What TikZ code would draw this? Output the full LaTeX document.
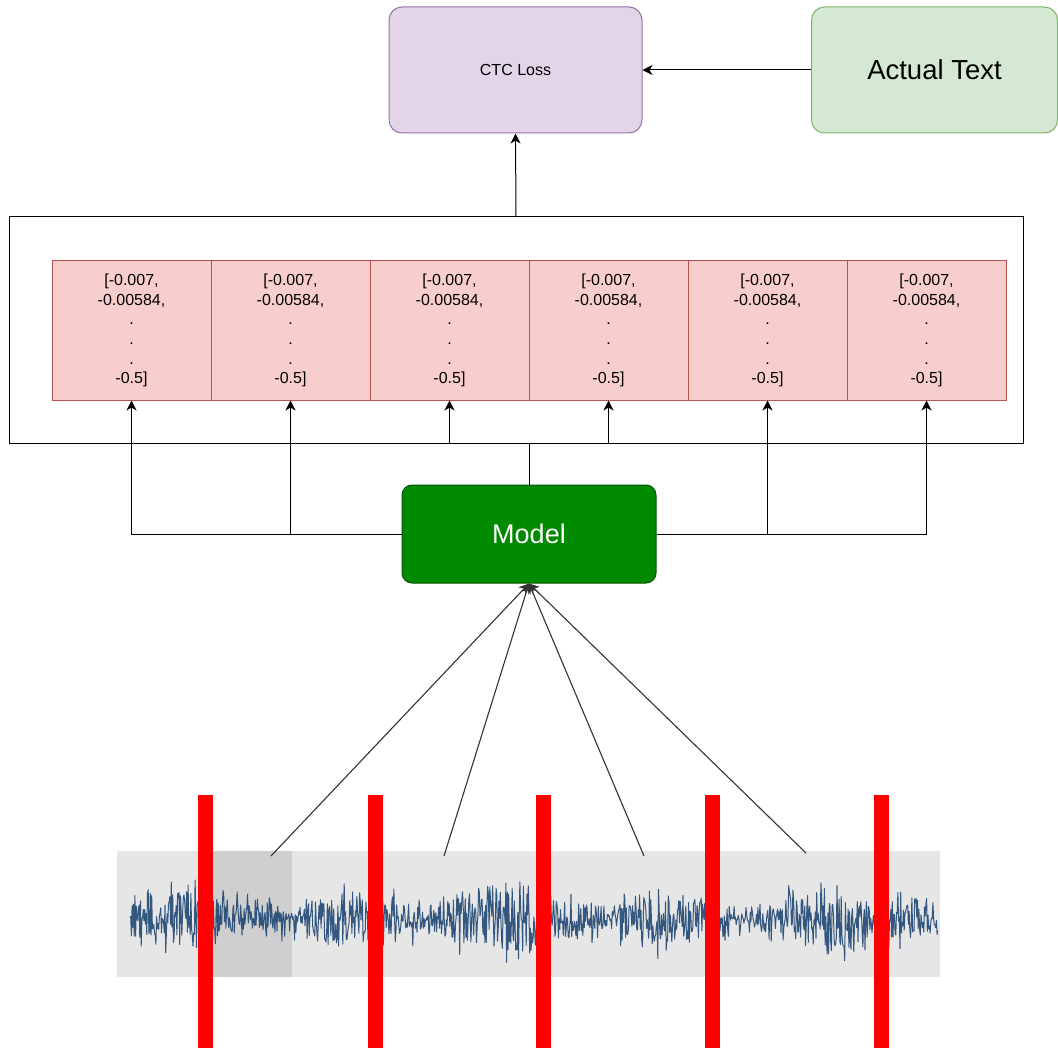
\documentclass[tikz,border=0pt]{standalone}
\usepackage{fontspec}
\setmainfont{Liberation Sans}
\usetikzlibrary{arrows.meta}
\definecolor{ctcfill}{HTML}{E1D5E7}
\definecolor{ctcdraw}{HTML}{9673A6}
\definecolor{actfill}{HTML}{D5E8D4}
\definecolor{actdraw}{HTML}{82B366}
\definecolor{cellfill}{HTML}{F8CECC}
\definecolor{celldraw}{HTML}{B85450}
\definecolor{modfill}{HTML}{008A00}
\definecolor{moddraw}{HTML}{005700}
\definecolor{wavebgc}{HTML}{E6E6E6}
\definecolor{wavesel}{HTML}{CFCFCF}
\definecolor{wavec}{HTML}{163F6E}
\definecolor{redbar}{HTML}{FF0000}
\tikzset{
  arr/.style={draw=black, line width=1pt, -{Stealth[length=10pt,width=10pt,inset=3pt]}},
  cellbox/.style={draw=celldraw, fill=cellfill, line width=1pt, minimum width=159pt, minimum height=139pt, inner sep=0pt, align=center, font=\fontsize{16}{19.6}\selectfont},
  bigbox/.style={rounded corners=13pt, line width=1pt, minimum width=253pt, minimum height=126pt, inner sep=0pt},
  barstyle/.style={fill=redbar, draw=none},
  feed/.style={draw=black!80, line width=1.1pt, -{Stealth[length=10pt,width=10pt,inset=3pt]}}
}
\begin{document}
\begin{tikzpicture}[x=1pt,y=-1pt]
\useasboundingbox (0,0) rectangle (1058,1051);
\fill[white] (0,0) rectangle (1058,1051);

% top boxes
\node[bigbox, draw=ctcdraw, fill=ctcfill, font=\fontsize{16}{19}\selectfont] (ctc) at (515.5,70) {CTC Loss};
\node[bigbox, draw=actdraw, fill=actfill, minimum width=246pt, font=\fontsize{27.5}{32}\selectfont] (act) at (934.5,70) {Actual Text};

% outer box
\node[draw=black, line width=1pt, minimum width=1014pt, minimum height=226pt, inner sep=0pt] (outer) at (516,330) {};

% cells
\foreach \i/\cx in {1/131.5,2/290.5,3/449.5,4/608.5,5/767.5,6/926.5}{
  \node[cellbox] (c\i) at (\cx,330.5) {[-0.007,\\-0.00584,\\.\\.\\.\\-0.5]};
}

% model
\node[draw=moddraw, fill=modfill, rounded corners=10pt, line width=1pt, minimum width=254pt, minimum height=98pt, inner sep=0pt, text=white, font=\fontsize{27}{32}\selectfont] (model) at (529,534) {Model};

% connectors top
\draw[arr] (act.west) -- (ctc.east);
\draw[arr] (outer.north) -- (ctc.south);

% model to cells
\draw[arr] (model.west) -| (c1.south);
\draw[arr] (model.west) -| (c2.south);
\draw[arr] (model.north) -- (model.north |- outer.south) -| (c3.south);
\draw[arr] (model.north) -- (model.north |- outer.south) -| (c4.south);
\draw[arr] (model.east) -| (c5.south);
\draw[arr] (model.east) -| (c6.south);

% waveform background
\fill[wavebgc] (117,851) rectangle (940,977);
\fill[wavesel] (212,851) rectangle (292,977);

% waveform
\pgfmathsetseed{4711}
\draw[wavec, line width=1pt, line join=round, opacity=0.85]
  (130,918) \foreach \x in {130.7,131.4,...,938} {
    -- (\x, {918 + (22 + 8*sin(\x*2.3) + 5*sin(\x*0.9) + 4*sin(\x*5.7))*rand + 30*rand*rand*rand})
  };

% red bars
\foreach \bx in {205.5,375,543.5,712.5,881.5}{
  \fill[barstyle] (\bx-7.5,795) rectangle (\bx+7.5,1048);
}

% feed lines from waveform to model
\coordinate (w1) at (271,856);
\coordinate (w2) at (444,856);
\coordinate (w3) at (644,856);
\coordinate (w4) at (806,853);
\foreach \w in {w1,w2,w3,w4}{
  \draw[feed] (\w) -- (model.south);
}
\end{tikzpicture}
\end{document}
